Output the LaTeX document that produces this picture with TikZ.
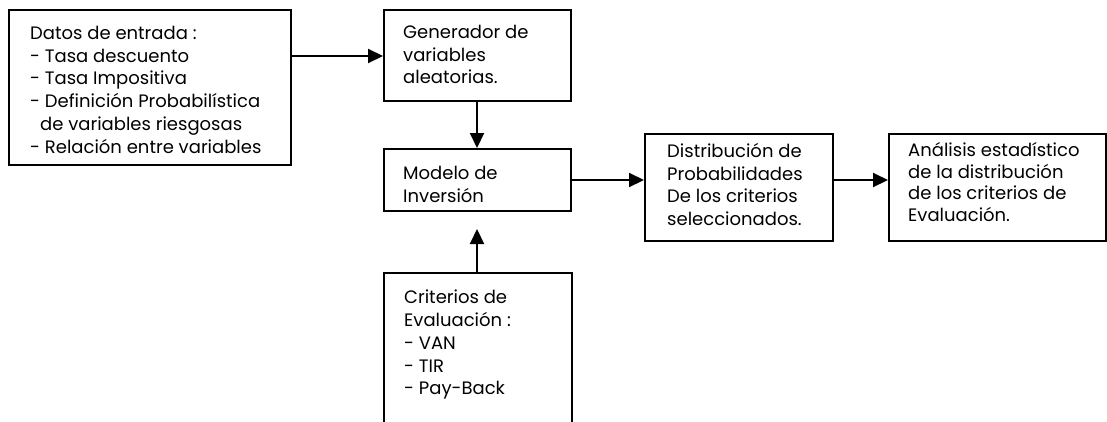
\documentclass[tikz,border=0pt]{standalone}
\usepackage{fontspec}
\setmainfont{Poppins}
\usetikzlibrary{arrows.meta,calc}
\begin{document}
\begin{tikzpicture}[x=1pt,y=-1pt,
  box/.style={draw,line width=2pt,minimum width=#1,inner sep=0pt},
  txt/.style={anchor=north west,align=left,inner sep=0pt,font=\fontsize{18}{22.7}\selectfont},
  arr/.style={line width=2pt,-{Triangle[length=15pt,width=14pt]}}]
\clip (0,0) rectangle (1107,421);
\fill[white] (0,0) rectangle (1107,421);
% boxes
\node[box=282pt,minimum height=155pt,anchor=north west] (datos) at (8,9) {};
\node[box=187pt,minimum height=91pt,anchor=north west] (gen) at (383,9) {};
\node[box=187pt,minimum height=62pt,anchor=north west] (modelo) at (383,148) {};
\node[box=188pt,minimum height=107pt,anchor=north west] (dist) at (644,133) {};
\node[box=217pt,minimum height=107pt,anchor=north west] (anal) at (888,133) {};
\node[box=188pt,minimum height=180pt,anchor=north west] (crit) at (383,272) {};
% texts
\node[txt] (datosT) at (30,26) {Datos de entrada :\\- Tasa descuento\\- Tasa Impositiva\\- Definición Probabilística\\\hspace*{10pt}de variables riesgosas\\- Relación entre variables};
\node[txt] (genT) at (403,25) {Generador de\\variables\\aleatorias.};
\node[txt] (modeloT) at (403,166) {Modelo de\\Inversión};
\node[txt] (distT) at (667,143) {Distribución de\\Probabilidades\\De los criterios\\seleccionados.};
\node[txt,font=\fontsize{18}{21.8}\selectfont] (analT) at (908,142) {Análisis estadístico\\de la distribución\\de los criterios de\\Evaluación.};
\node[txt] (critT) at (404,290) {Criterios de\\Evaluación :\\- VAN\\- TIR\\- Pay-Back};
% connectors
\coordinate (a1) at ($(datos.north east)+(0,47)$);
\draw[arr] (a1) -- (a1 -| gen.west);
\draw[arr] (gen.south -| 477,0) -- (modelo.north -| 477,0);
\coordinate (a2) at ($(modelo.north east)+(0,32)$);
\draw[arr] (a2) -- (a2 -| dist.west);
\coordinate (a3) at ($(dist.north east)+(0,47)$);
\draw[arr] (a3) -- (a3 -| anal.west);
\coordinate (a4) at ($(modelo.south -| 477,0)+(0,17)$);
\draw[arr] (crit.north -| 477,0) -- (a4);
\end{tikzpicture}
\end{document}
